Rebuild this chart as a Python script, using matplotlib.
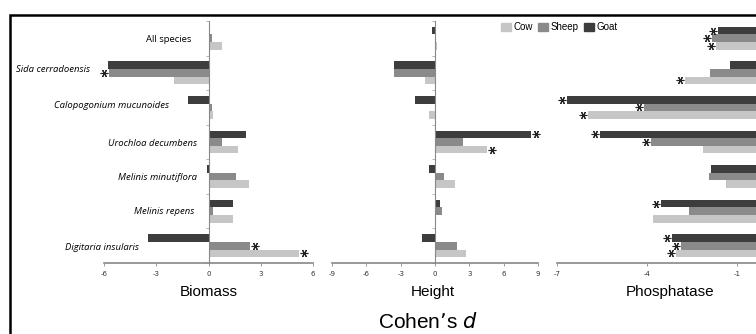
import numpy as np
import matplotlib.pyplot as plt
from matplotlib.transforms import ScaledTranslation
from matplotlib.patches import Rectangle, Patch

# species, top to bottom
species = ['All species', 'Sida cerradoensis', 'Calopogonium mucunoides',
           'Urochloa decumbens', 'Melinis minutiflora', 'Melinis repens',
           'Digitaria insularis']
animals = ['Goat', 'Sheep', 'Cow']

# Cohen's d values
biomass_goat = [0.1, -5.75, -1.17, 2.15, -0.1, 1.4, -3.5]
biomass_sheep = [0.2, -5.7, 0.2, 0.8, 1.6, 0.25, 2.4]
biomass_cow = [0.75, -2.0, 0.27, 1.67, 2.3, 1.4, 5.2]

height_goat = [-0.3, -3.6, -1.74, 8.35, -0.55, 0.4, -1.1]
height_sheep = [0.05, -3.6, 0.0, 2.47, 0.78, 0.63, 1.93]
height_cow = [0.15, -0.9, -0.55, 4.5, 1.74, 0.07, 2.75]

phos_goat = [-1.62, -1.24, -6.68, -5.56, -1.88, -3.54, -3.18]
phos_sheep = [-1.82, -1.9, -4.1, -3.87, -1.94, -2.6, -2.88]
phos_cow = [-1.71, -2.73, -5.96, -2.12, -1.37, -3.79, -3.03]

# significant differences (asterisks)
biomass_sig_goat = [0, 0, 0, 0, 0, 0, 0]
biomass_sig_sheep = [0, 1, 0, 0, 0, 0, 1]
biomass_sig_cow = [0, 0, 0, 0, 0, 0, 1]
height_sig_goat = [0, 0, 0, 1, 0, 0, 0]
height_sig_sheep = [0, 0, 0, 0, 0, 0, 0]
height_sig_cow = [0, 0, 0, 1, 0, 0, 0]
phos_sig_goat = [1, 0, 1, 1, 0, 1, 1]
phos_sig_sheep = [1, 0, 1, 1, 0, 0, 1]
phos_sig_cow = [1, 1, 1, 0, 0, 0, 1]

colors = {'Goat': '#3d3d3d', 'Sheep': '#8a8a8a', 'Cow': '#c6c6c6'}
W, H = 756, 334

fig = plt.figure(figsize=(W / 100, H / 100), dpi=100)

# outer frame (cropped in the original)
fig.patches.append(Rectangle((10 / W, -0.2), 1.2, 1 - 15 / H + 0.2,
                             transform=fig.transFigure, fill=False,
                             edgecolor='black', linewidth=1.8))


def panel(left_px, right_px, xlim, ticks, goat, sheep, cow, sigs, label, label_x):
    bottom, top = 263, 21
    ax = fig.add_axes([left_px / W, 1 - bottom / H,
                       (right_px - left_px) / W, (bottom - top) / H])
    y = np.arange(len(species))[::-1].astype(float)
    hgt = 0.22
    for vals, off, name, sig in zip([goat, sheep, cow], [hgt, 0, -hgt], animals, sigs):
        ax.barh(y + off, vals, height=hgt, color=colors[name], linewidth=0)
        for v, yy, s in zip(vals, y + off, sig):
            if s:
                dx = 5 / 100 if v >= 0 else -5 / 100
                tr = ax.transData + ScaledTranslation(dx, 0, fig.dpi_scale_trans)
                ax.plot(v, yy, marker=(6, 2, 90), markersize=5.5, color='#222222',
                        markeredgewidth=0.8, transform=tr, clip_on=False)
    ax.set_xlim(*xlim)
    ax.set_ylim(-0.5, len(species) - 0.5)
    ax.set_xticks(ticks)
    ax.set_xticklabels([str(t) for t in ticks])
    ax.set_yticks(np.arange(-0.5, len(species), 1.0))
    ax.set_yticklabels([])
    for s in ['top', 'right']:
        ax.spines[s].set_visible(False)
    ax.spines['left'].set_position(('data', 0))
    ax.spines['left'].set_color('#888888')
    ax.spines['bottom'].set_color('#888888')
    ax.spines['left'].set_linewidth(0.8)
    ax.spines['bottom'].set_linewidth(1.2)
    ax.tick_params(axis='y', length=2, width=0.6, color='#aaaaaa')
    ax.tick_params(axis='x', length=2, width=0.6, color='#888888', labelsize=5,
                   labelcolor='#333333', pad=4)
    ax.patch.set_alpha(0)
    fig.text(label_x / W, 1 - 292 / H, label, ha='center', va='center',
             fontsize=11, family='Liberation Sans')
    return ax


panel(104, 313, (-6, 6), [-6, -3, 0, 3, 6], biomass_goat, biomass_sheep, biomass_cow,
      [biomass_sig_goat, biomass_sig_sheep, biomass_sig_cow], 'Biomass', 209)
panel(332, 538, (-9, 9), [-9, -6, -3, 0, 3, 6, 9], height_goat, height_sheep,
      height_cow, [height_sig_goat, height_sig_sheep, height_sig_cow], 'Height', 433)
panel(557, 827, (-7, 2), [-7, -4, -1], phos_goat, phos_sheep, phos_cow,
      [phos_sig_goat, phos_sig_sheep, phos_sig_cow], 'Phosphatase', 670)

# species labels
label_pos = [(191, 39, 'right'), (16, 69, 'left'), (169, 105, 'right'),
             (197, 143, 'right'), (197, 178, 'right'), (194, 212, 'right'),
             (139, 247, 'right')]
for name, (lx, ly, ha) in zip(species, label_pos):
    fig.text(lx / W, 1 - ly / H, name, ha=ha, va='center', fontsize=6.8,
             family='Open Sans', style='normal' if name == 'All species' else 'italic')

fig.text(428 / W, 1 - 322 / H, "Cohen\u2019s $\\mathit{d}$", ha='center', va='center',
         fontsize=15, family='Liberation Sans')

handles = [Patch(color=colors[a]) for a in ['Cow', 'Sheep', 'Goat']]
fig.legend(handles, ['Cow', 'Sheep', 'Goat'], ncol=3, frameon=False,
           loc='center left', bbox_to_anchor=(501 / W, 1 - 27 / H),
           prop={'family': 'Liberation Sans', 'size': 7},
           handlelength=1.0, handleheight=0.9, handletextpad=0.25,
           columnspacing=0.6, borderpad=0, borderaxespad=0)

plt.savefig('out.png', dpi=100)
